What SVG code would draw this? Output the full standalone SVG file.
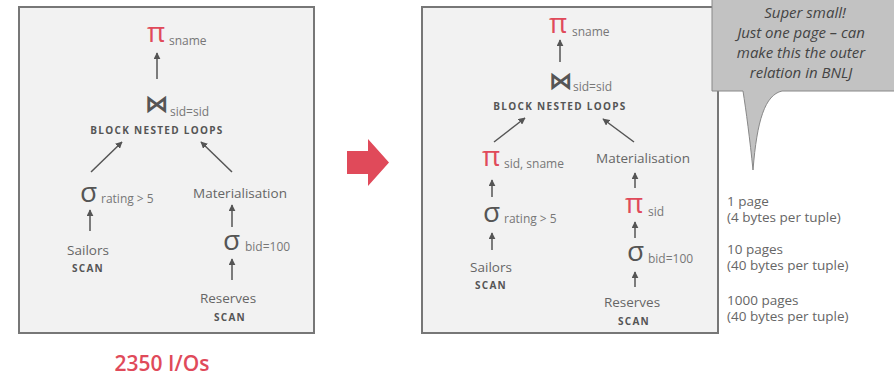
<svg xmlns="http://www.w3.org/2000/svg" width="894" height="377" viewBox="0 0 894 377">
<defs>
<marker id="ah" viewBox="0 0 10 10" refX="9" refY="5" markerWidth="7" markerHeight="7" markerUnits="userSpaceOnUse" orient="auto">
<path d="M0,0 L10,5 L0,10 Z" fill="#555"/>
</marker>
<style>
.box{fill:#f2f2f2;stroke:#777;stroke-width:2}
.op{font-family:"Open Sans","DejaVu Sans",sans-serif;font-size:28px;fill:#555}
.join{font-family:"DejaVu Sans",sans-serif;font-size:24px;fill:#555;font-weight:bold}
.red{fill:#e04a5a}
.sub{font-family:"Open Sans","DejaVu Sans",sans-serif;font-size:12px;fill:#777}
.lbl{font-family:"Open Sans","DejaVu Sans",sans-serif;font-size:13.5px;fill:#666}
.alg{font-family:"Open Sans","DejaVu Sans",sans-serif;font-size:10px;font-weight:bold;fill:#555;letter-spacing:1.3px}
.note{font-family:"Open Sans","DejaVu Sans",sans-serif;font-size:13.5px;fill:#666}
.call{font-family:"Open Sans","DejaVu Sans",sans-serif;font-size:15px;font-style:italic;fill:#444}
.edge{stroke:#555;stroke-width:1.5;fill:none;marker-end:url(#ah)}
</style>
</defs>
<rect width="894" height="377" fill="#fff"/>

<rect class="box" x="19" y="7" width="295" height="326"/>
<rect class="box" x="422" y="7" width="296" height="326"/>

<g id="plan1">
<g id="p1-proj"><text class="op red" x="147" y="42">π</text><text class="sub red" x="169" y="45">sname</text></g>
<g id="p1-join"><text class="join" x="145" y="112">⋈</text><text class="sub" x="170" y="116">sid=sid</text><text class="alg" x="157" y="134" text-anchor="middle">BLOCK NESTED LOOPS</text></g>
<g id="p1-sel1"><text class="op" x="80" y="202">σ</text><text class="sub" x="101" y="203" font-size="11">rating &gt; 5</text></g>
<g id="p1-mat"><text class="lbl" x="240" y="198" text-anchor="middle">Materialisation</text></g>
<g id="p1-sel2"><text class="op" x="223" y="250">σ</text><text class="sub" x="245" y="251">bid=100</text></g>
<g id="p1-sailors"><text class="lbl" x="88" y="255" text-anchor="middle">Sailors</text><text class="alg" x="88" y="272" text-anchor="middle">SCAN</text></g>
<g id="p1-reserves"><text class="lbl" x="228" y="303" text-anchor="middle">Reserves</text><text class="alg" x="230" y="321" text-anchor="middle">SCAN</text></g>
</g>

<g id="plan2">
<g id="p2-proj"><text class="op red" x="549" y="33">π</text><text class="sub red" x="572" y="36">sname</text></g>
<g id="p2-join"><text class="join" x="549" y="89">⋈</text><text class="sub" x="573" y="91">sid=sid</text><text class="alg" x="560" y="110" text-anchor="middle">BLOCK NESTED LOOPS</text></g>
<g id="p2-proj2"><text class="op red" x="482" y="166">π</text><text class="sub red" x="504" y="168">sid, sname</text></g>
<g id="p2-mat"><text class="lbl" x="643" y="163" text-anchor="middle">Materialisation</text></g>
<g id="p2-sel1"><text class="op" x="483" y="222">σ</text><text class="sub" x="504" y="223" font-size="11">rating &gt; 5</text></g>
<g id="p2-proj3"><text class="op red" x="625" y="213">π</text><text class="sub red" x="648" y="216">sid</text></g>
<g id="p2-sel2"><text class="op" x="627" y="261">σ</text><text class="sub" x="648" y="263">bid=100</text></g>
<g id="p2-sailors"><text class="lbl" x="491" y="272" text-anchor="middle">Sailors</text><text class="alg" x="491" y="289" text-anchor="middle">SCAN</text></g>
<g id="p2-reserves"><text class="lbl" x="632" y="307" text-anchor="middle">Reserves</text><text class="alg" x="634" y="325" text-anchor="middle">SCAN</text></g>
</g>

<g id="connectors">
<line class="edge" x1="157" y1="79" x2="157" y2="53"/>
<line class="edge" x1="91" y1="172" x2="122" y2="142"/>
<line class="edge" x1="232" y1="172" x2="201" y2="142"/>
<line class="edge" x1="90" y1="231" x2="90" y2="210"/>
<line class="edge" x1="232" y1="227" x2="232" y2="205"/>
<line class="edge" x1="232" y1="280" x2="232" y2="259"/>

<line class="edge" x1="560" y1="62" x2="560" y2="40"/>
<line class="edge" x1="494" y1="142" x2="525" y2="118"/>
<line class="edge" x1="634" y1="142" x2="603" y2="119"/>
<line class="edge" x1="492" y1="197" x2="492" y2="180"/>
<line class="edge" x1="492" y1="250" x2="492" y2="233"/>
<line class="edge" x1="635" y1="188" x2="635" y2="173"/>
<line class="edge" x1="635" y1="238" x2="635" y2="222"/>
<line class="edge" x1="635" y1="287" x2="635" y2="272"/>
</g>

<g id="big-arrow">
<path d="M347,151 H368 V139 L389,162.5 L368,186 V174 H347 Z" fill="#e04a5a"/>
</g>

<g id="callout">
<path d="M712,-2 H896 V91 H782 C765,95 757,120 753,170 C750,140 746,110 743,91 H712 Z" fill="#c2c2c2" stroke="#888" stroke-width="1"/>
<text class="call" x="805" y="18" text-anchor="middle">Super small!</text>
<text class="call" x="801" y="38" text-anchor="middle">Just one page – can</text>
<text class="call" x="801" y="58" text-anchor="middle">make this the outer</text>
<text class="call" x="801" y="78" text-anchor="middle">relation in BNLJ</text>
</g>

<g id="notes">
<text class="note" x="727" y="206">1 page</text>
<text class="note" x="727" y="222">(4 bytes per tuple)</text>
<text class="note" x="727" y="254">10 pages</text>
<text class="note" x="727" y="270">(40 bytes per tuple)</text>
<text class="note" x="727" y="305">1000 pages</text>
<text class="note" x="727" y="321">(40 bytes per tuple)</text>
</g>

<text x="162" y="371" text-anchor="middle" font-family="'Open Sans','DejaVu Sans',sans-serif" font-size="21" font-weight="600" fill="#e04a5a">2350 I/Os</text>
</svg>
